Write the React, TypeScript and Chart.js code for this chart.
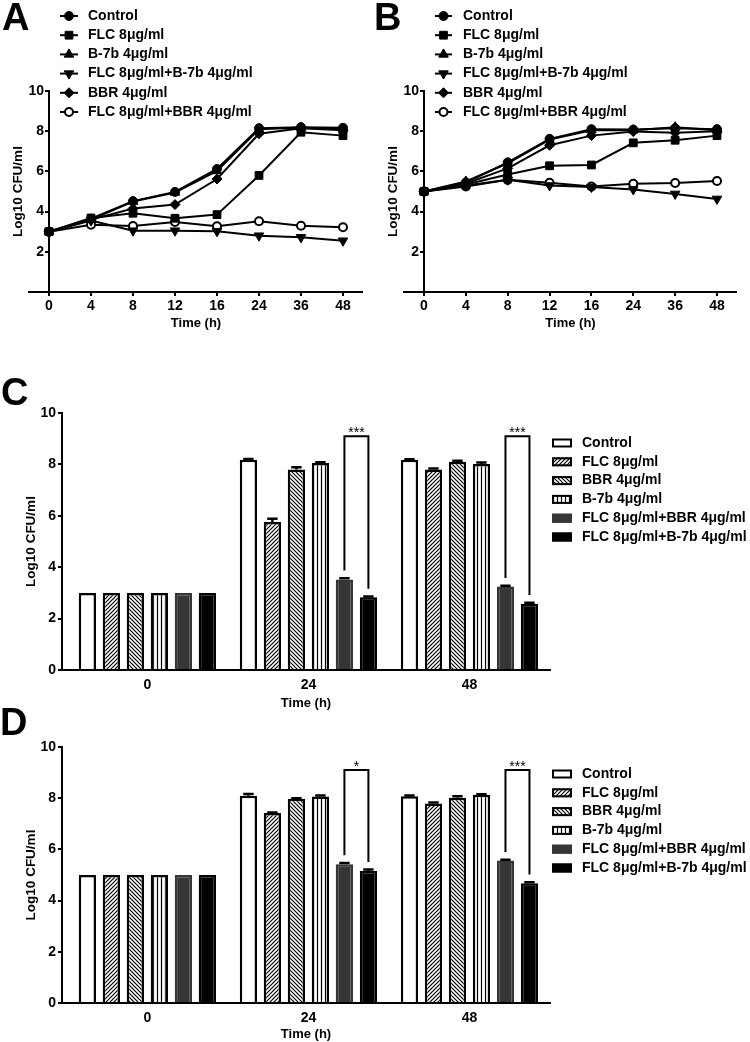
import React, { useEffect, useRef } from 'react';
import { Chart, registerables } from 'chart.js';
import { drawPoint } from 'chart.js/helpers';

Chart.register(...registerables);

const FONT = "'Liberation Sans', Arial, Helvetica, sans-serif";
Chart.defaults.font.family = FONT;
Chart.defaults.color = '#000';

// ---------- Line charts (A, B) ----------
const timeLabels = ['0', '4', '8', '12', '16', '24', '36', '48'];
const lineSeriesNames = [
  'Control',
  'FLC 8μg/ml',
  'B-7b 4μg/ml',
  'FLC 8μg/ml+B-7b 4μg/ml',
  'BBR 4μg/ml',
  'FLC 8μg/ml+BBR 4μg/ml',
];

const aControl = [3.0, 3.65, 4.52, 4.98, 6.12, 8.15, 8.2, 8.17];
const aFLC = [3.0, 3.68, 3.92, 3.67, 3.85, 5.8, 7.95, 7.78];
const aB7b = [3.0, 3.6, 4.5, 4.95, 6.02, 8.1, 8.18, 8.1];
const aFLCB7b = [3.0, 3.55, 3.05, 3.05, 3.02, 2.8, 2.72, 2.55];
const aBBR = [3.0, 3.6, 4.15, 4.35, 5.62, 7.87, 8.15, 8.05];
const aFLCBBR = [3.0, 3.35, 3.28, 3.48, 3.27, 3.52, 3.3, 3.22];

const bControl = [5.0, 5.45, 6.45, 7.62, 8.1, 8.08, 8.15, 8.1];
const bFLC = [5.0, 5.35, 5.85, 6.28, 6.32, 7.42, 7.55, 7.78];
const bB7b = [5.0, 5.5, 6.4, 7.58, 8.05, 8.05, 8.2, 8.05];
const bFLCB7b = [5.0, 5.3, 5.58, 5.3, 5.22, 5.1, 4.88, 4.63];
const bBBR = [5.0, 5.4, 6.15, 7.3, 7.78, 7.98, 7.92, 8.0];
const bFLCBBR = [5.0, 5.25, 5.58, 5.43, 5.25, 5.38, 5.42, 5.52];

// ---------- Bar charts (C, D) ----------
const barGroups = ['0', '24', '48'];
const barSeriesNames = [
  'Control',
  'FLC 8μg/ml',
  'BBR 4μg/ml',
  'B-7b 4μg/ml',
  'FLC 8μg/ml+BBR 4μg/ml',
  'FLC 8μg/ml+B-7b 4μg/ml',
];

const cControl = [3.0, 8.18, 8.18];
const cFLC = [3.0, 5.76, 7.8];
const cBBR = [3.0, 7.8, 8.1];
const cB7b = [3.0, 8.05, 8.02];
const cFLCBBR = [3.0, 3.52, 3.25];
const cFLCB7b = [3.0, 2.83, 2.58];
const cControlErr = [0, 0.03, 0.02];
const cFLCErr = [0, 0.13, 0.04];
const cBBRErr = [0, 0.09, 0.04];
const cB7bErr = [0, 0.03, 0.05];
const cFLCBBRErr = [0, 0.05, 0.03];
const cFLCB7bErr = [0, 0.03, 0.04];
const cSig = ['', '***', '***'];

const dControl = [5.0, 8.1, 8.08];
const dFLC = [5.0, 7.42, 7.79];
const dBBR = [5.0, 7.98, 8.02];
const dB7b = [5.0, 8.07, 8.13];
const dFLCBBR = [5.0, 5.42, 5.57];
const dFLCB7b = [5.0, 5.16, 4.68];
const dControlErr = [0, 0.06, 0.03];
const dFLCErr = [0, 0.02, 0.04];
const dBBRErr = [0, 0.02, 0.06];
const dB7bErr = [0, 0.04, 0.02];
const dFLCBBRErr = [0, 0.05, 0.03];
const dFLCB7bErr = [0, 0.05, 0.04];
const dSig = ['', '*', '***'];

const yTickValues = [0, 2, 4, 6, 8, 10];

// ---------- styles ----------
const lineMarkers = [
  { style: 'circle', rotation: 0, radius: 4.5, fill: '#000', border: 1 },
  { style: 'rect', rotation: 0, radius: 5.5, fill: '#000', border: 1 },
  { style: 'triangle', rotation: 0, radius: 5.5, fill: '#000', border: 1 },
  { style: 'triangle', rotation: 180, radius: 5.5, fill: '#000', border: 1 },
  { style: 'rectRot', rotation: 0, radius: 5, fill: '#000', border: 1 },
  { style: 'circle', rotation: 0, radius: 4, fill: '#fff', border: 2 },
];

function hatch(kind: string): any {
  const s = 4;
  const c = document.createElement('canvas');
  c.width = s;
  c.height = s;
  const g = c.getContext('2d')!;
  g.fillStyle = '#fff';
  g.fillRect(0, 0, s, s);
  g.strokeStyle = '#000';
  g.lineWidth = 1.2;
  g.beginPath();
  if (kind === 'fwd') {
    g.moveTo(0, s); g.lineTo(s, 0);
    g.moveTo(-1, 1); g.lineTo(1, -1);
    g.moveTo(s - 1, s + 1); g.lineTo(s + 1, s - 1);
  } else if (kind === 'back') {
    g.moveTo(0, 0); g.lineTo(s, s);
    g.moveTo(-1, s - 1); g.lineTo(1, s + 1);
    g.moveTo(s - 1, -1); g.lineTo(s + 1, 1);
  } else {
    g.moveTo(1.5, 0); g.lineTo(1.5, s);
  }
  g.stroke();
  return g.createPattern(c, 'repeat');
}

// ---------- plugins ----------
const lineLegendPlugin = {
  id: 'lineLegend',
  afterDraw(chart: any, _args: any, o: any) {
    const { ctx } = chart;
    ctx.save();
    chart.data.datasets.forEach((ds: any, i: number) => {
      const y = o.top + i * o.gap;
      ctx.strokeStyle = '#000';
      ctx.lineWidth = 2;
      ctx.beginPath();
      ctx.moveTo(o.x, y);
      ctx.lineTo(o.x + o.lineLen, y);
      ctx.stroke();
      ctx.fillStyle = ds.pointBackgroundColor;
      ctx.lineWidth = ds.pointBorderWidth;
      drawPoint(ctx, {
        pointStyle: ds.pointStyle,
        rotation: ds.pointRotation,
        radius: ds.pointRadius,
        borderWidth: ds.pointBorderWidth,
      } as any, o.x + o.lineLen / 2, y);
      ctx.fillStyle = '#000';
      ctx.font = `bold 14px ${FONT}`;
      ctx.textAlign = 'left';
      ctx.textBaseline = 'middle';
      ctx.fillText(ds.label, o.textX, y);
    });
    ctx.restore();
  },
};

const axisExtPlugin = {
  id: 'axisExt',
  beforeDatasetsDraw(chart: any, _args: any, o: any) {
    const { ctx, chartArea: ca } = chart;
    ctx.save();
    ctx.strokeStyle = '#000';
    ctx.lineWidth = 2;
    ctx.beginPath();
    ctx.moveTo(ca.left - o.left, ca.bottom);
    ctx.lineTo(ca.right + o.right, ca.bottom);
    ctx.stroke();
    ctx.restore();
  },
};

const barLegendPlugin = {
  id: 'barLegend',
  afterDraw(chart: any, _args: any, o: any) {
    const { ctx } = chart;
    ctx.save();
    chart.data.datasets.forEach((ds: any, i: number) => {
      const y = o.top + i * o.gap;
      ctx.fillStyle = ds.backgroundColor;
      ctx.fillRect(o.x, y - 4.5, 20, 9);
      ctx.strokeStyle = ds.borderColor;
      ctx.lineWidth = 2;
      ctx.strokeRect(o.x + 1, y - 3.5, 18, 7);
      ctx.fillStyle = '#000';
      ctx.font = `bold 14px ${FONT}`;
      ctx.textAlign = 'left';
      ctx.textBaseline = 'middle';
      ctx.fillText(ds.label, o.textX, y);
    });
    ctx.restore();
  },
};

const errSigPlugin = {
  id: 'errSig',
  afterDatasetsDraw(chart: any, _args: any, o: any) {
    const { ctx } = chart;
    const yS = chart.scales.y;
    ctx.save();
    ctx.strokeStyle = '#000';
    ctx.lineWidth = 2.5;
    o.values.forEach((vals: number[], i: number) => {
      const meta = chart.getDatasetMeta(i);
      meta.data.forEach((bar: any, j: number) => {
        const err = o.errors[i][j];
        if (!err) return;
        const yTop = yS.getPixelForValue(vals[j] + err);
        const yBase = yS.getPixelForValue(vals[j]);
        const half = bar.width * 0.3;
        ctx.beginPath();
        ctx.moveTo(bar.x, yBase);
        ctx.lineTo(bar.x, yTop);
        ctx.moveTo(bar.x - half, yTop);
        ctx.lineTo(bar.x + half, yTop);
        ctx.stroke();
      });
    });
    ctx.lineWidth = 2;
    o.sig.forEach((label: string, j: number) => {
      if (!label) return;
      const [ia, ib] = o.pair;
      const a = chart.getDatasetMeta(ia).data[j];
      const b = chart.getDatasetMeta(ib).data[j];
      const ya = yS.getPixelForValue(o.values[ia][j] + o.errors[ia][j] + o.gap);
      const yb = yS.getPixelForValue(o.values[ib][j] + o.errors[ib][j] + o.gap);
      const yt = yS.getPixelForValue(o.bracketTop);
      ctx.beginPath();
      ctx.moveTo(a.x, ya);
      ctx.lineTo(a.x, yt);
      ctx.lineTo(b.x, yt);
      ctx.lineTo(b.x, yb);
      ctx.stroke();
      ctx.fillStyle = '#000';
      ctx.font = `14px ${FONT}`;
      ctx.textAlign = 'center';
      ctx.textBaseline = 'alphabetic';
      ctx.fillText(label, (a.x + b.x) / 2, yt + 1);
    });
    ctx.restore();
  },
};

// ---------- config builders ----------
function lineConfig(series: number[][], p: any): any {
  return {
    type: 'line',
    data: {
      labels: timeLabels,
      datasets: series.map((d, i) => ({
        label: lineSeriesNames[i],
        data: d,
        borderColor: '#000',
        borderWidth: 2,
        tension: 0,
        clip: false,
        pointStyle: lineMarkers[i].style,
        pointRotation: lineMarkers[i].rotation,
        pointRadius: lineMarkers[i].radius,
        pointBackgroundColor: lineMarkers[i].fill,
        pointBorderColor: '#000',
        pointBorderWidth: lineMarkers[i].border,
      })),
    },
    options: {
      responsive: false,
      animation: false,
      devicePixelRatio: 1,
      layout: { padding: { left: p.padLeft, top: 91, right: p.padRight, bottom: 8 } },
      plugins: {
        legend: { display: false },
        tooltip: { enabled: false },
        lineLegend: p.legend,
        axisExt: { left: 21, right: 20 },
      },
      scales: {
        x: {
          type: 'category',
          offset: false,
          grid: { display: true, drawOnChartArea: false, drawTicks: true, tickLength: 4, color: '#000', lineWidth: 2 },
          border: { display: false },
          ticks: { font: { size: 14, weight: 'bold' }, padding: 2, maxRotation: 0, autoSkip: false, color: '#000' },
          title: { display: true, text: 'Time (h)', font: { size: 13, weight: 'bold' }, color: '#000', padding: { top: 0, bottom: 1 } },
          afterFit: (s: any) => { s.height = 40; },
        },
        y: {
          min: 0,
          max: 10,
          afterBuildTicks: (s: any) => { s.ticks = yTickValues.map((v) => ({ value: v })); },
          ticks: {
            callback: (v: any) => (v === 0 ? '' : String(v)),
            font: { size: 14, weight: 'bold' },
            padding: 1,
            color: '#000',
          },
          grid: { display: true, drawOnChartArea: false, drawTicks: true, tickLength: 4, color: '#000', lineWidth: 2 },
          border: { display: true, color: '#000', width: 2 },
          title: { display: true, text: 'Log10 CFU/ml', font: { size: 13.5, weight: 'bold' }, color: '#000', padding: { top: 6, bottom: 0 } },
          afterFit: (s: any) => { s.width = p.yWidth; },
        },
      },
    },
    plugins: [lineLegendPlugin, axisExtPlugin],
  };
}

function barConfig(series: number[][], errs: number[][], sig: string[], fills: any[], p: any): any {
  const borders = ['#000', '#000', '#000', '#000', '#363636', '#000'];
  return {
    type: 'bar',
    data: {
      datasets: series.map((d, i) => ({
        label: barSeriesNames[i],
        data: d.map((v, j) => ({ x: j, y: v })),
        backgroundColor: fills[i],
        borderColor: borders[i],
        borderWidth: 2.5,
        borderSkipped: 'start',
        barPercentage: 0.72,
        categoryPercentage: 0.894,
      })),
    },
    options: {
      responsive: false,
      animation: false,
      devicePixelRatio: 1,
      layout: { padding: { left: 20, top: p.padTop, right: 200, bottom: 0 } },
      plugins: {
        legend: { display: false },
        tooltip: { enabled: false },
        barLegend: p.legend,
        errSig: { values: series, errors: errs, sig, pair: [4, 5], bracketTop: 9.1, gap: 0.3 },
      },
      scales: {
        x: {
          type: 'linear',
          offset: false,
          min: -0.53,
          max: 2.5,
          afterBuildTicks: (s: any) => { s.ticks = barGroups.map((_g, i) => ({ value: i })); },
          ticks: {
            callback: (_v: any, i: number) => barGroups[i],
            font: { size: 14, weight: 'bold' },
            padding: -1,
            maxRotation: 0,
            autoSkip: false,
            color: '#000',
          },
          grid: { display: false, offset: false },
          border: { display: true, color: '#000', width: 2 },
          title: { display: true, text: 'Time (h)', font: { size: 13, weight: 'bold' }, color: '#000', padding: { top: 0, bottom: p.titlePad } },
          afterFit: (s: any) => { s.height = p.xHeight; },
        },
        y: {
          min: 0,
          max: 10,
          afterBuildTicks: (s: any) => { s.ticks = yTickValues.map((v) => ({ value: v })); },
          ticks: { font: { size: 14, weight: 'bold' }, padding: 2, color: '#000' },
          grid: { display: true, drawOnChartArea: false, drawTicks: true, tickLength: 4, color: '#000', lineWidth: 2 },
          border: { display: true, color: '#000', width: 2 },
          title: { display: true, text: 'Log10 CFU/ml', font: { size: 13.5, weight: 'bold' }, color: '#000', padding: { top: 3, bottom: 0 } },
          afterFit: (s: any) => { s.width = 42; },
        },
      },
    },
    plugins: [errSigPlugin, barLegendPlugin],
  };
}

const letterStyle = (left: number, top: number): React.CSSProperties => ({
  position: 'absolute',
  left,
  top,
  fontFamily: FONT,
  fontWeight: 'bold',
  fontSize: 38,
  lineHeight: '38px',
  color: '#000',
});

export default function App() {
  const refA = useRef<HTMLCanvasElement>(null);
  const refB = useRef<HTMLCanvasElement>(null);
  const refC = useRef<HTMLCanvasElement>(null);
  const refD = useRef<HTMLCanvasElement>(null);

  useEffect(() => {
    const fills = ['#fff', hatch('fwd'), hatch('back'), hatch('vert'), '#363636', '#000'];
    const charts: Chart[] = [];
    charts.push(
      new Chart(refA.current!, lineConfig([aControl, aFLC, aB7b, aFLCB7b, aBBR, aFLCBBR], {
        padLeft: 4, padRight: 27, yWidth: 45,
        legend: { x: 60, lineLen: 18, textX: 88, top: 16, gap: 19.2 },
      }))
    );
    charts.push(
      new Chart(refB.current!, lineConfig([bControl, bFLC, bB7b, bFLCB7b, bBBR, bFLCBBR], {
        padLeft: 9, padRight: 33, yWidth: 45,
        legend: { x: 65, lineLen: 17, textX: 93, top: 16, gap: 19.2 },
      }))
    );
    charts.push(
      new Chart(refC.current!, barConfig(
        [cControl, cFLC, cBBR, cB7b, cFLCBBR, cFLCB7b],
        [cControlErr, cFLCErr, cBBRErr, cB7bErr, cFLCBBRErr, cFLCB7bErr],
        cSig, fills,
        { padTop: 53, xHeight: 40, titlePad: -1, legend: { x: 552, textX: 582, top: 83, gap: 18.8 } }
      ))
    );
    charts.push(
      new Chart(refD.current!, barConfig(
        [dControl, dFLC, dBBR, dB7b, dFLCBBR, dFLCB7b],
        [dControlErr, dFLCErr, dBBRErr, dB7bErr, dFLCBBRErr, dFLCB7bErr],
        dSig, fills,
        { padTop: 47, xHeight: 39, titlePad: 0, legend: { x: 552, textX: 582, top: 74, gap: 18.8 } }
      ))
    );
    return () => charts.forEach((c) => c.destroy());
  }, []);

  return (
    <div style={{ position: 'absolute', left: 0, top: 0, width: 750, height: 1042, background: '#fff', overflow: 'hidden' }}>
      <canvas ref={refA} width={370} height={340} style={{ position: 'absolute', left: 0, top: 0 }} />
      <canvas ref={refB} width={380} height={340} style={{ position: 'absolute', left: 370, top: 0 }} />
      <canvas ref={refC} width={750} height={350} style={{ position: 'absolute', left: 0, top: 360 }} />
      <canvas ref={refD} width={750} height={342} style={{ position: 'absolute', left: 0, top: 700 }} />
      <div style={letterStyle(2, -2)}>A</div>
      <div style={letterStyle(374, -2)}>B</div>
      <div style={letterStyle(1, 373)}>C</div>
      <div style={letterStyle(0, 703)}>D</div>
    </div>
  );
}
